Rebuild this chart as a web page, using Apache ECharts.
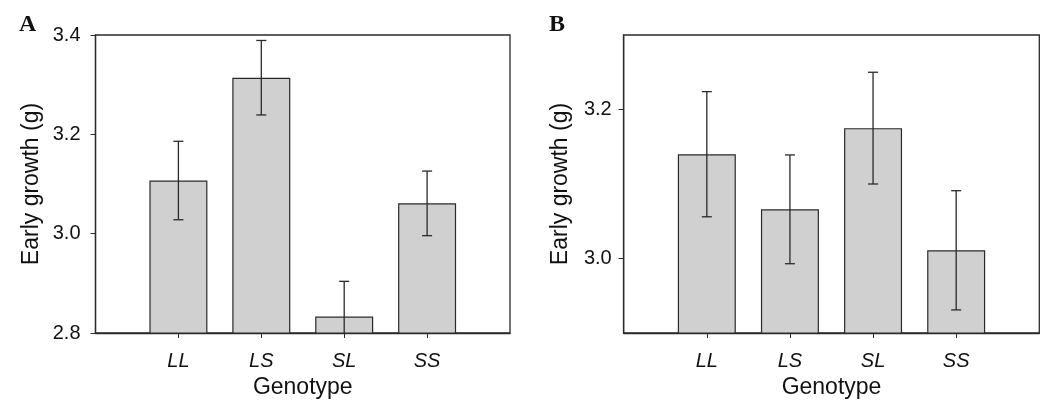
<!DOCTYPE html>
<html>
<head>
<meta charset="utf-8">
<script src="https://cdn.jsdelivr.net/npm/echarts@6/dist/echarts.min.js"></script>
<style>html,body{margin:0;padding:0;background:#fff}#c{width:1050px;height:412px}</style>
</head>
<body>
<div id="c"></div>
<script>
const categories = ['LL', 'LS', 'SL', 'SS'];
const meansA = [3.107, 3.314, 2.833, 3.061];
const errA = [0.079, 0.075, 0.071, 0.065];
const meansB = [3.140, 3.066, 3.175, 3.011];
const errB = [0.084, 0.073, 0.075, 0.080];
const yTicksA = [2.8, 3.0, 3.2, 3.4];
const yTicksB = [3.0, 3.2];
const catPos = [1, 2, 3, 4];

const FONT = '"Liberation Sans", Arial, Helvetica, sans-serif';
const INK = '#2a2a2a';

function barData(m) { return m.map((v, i) => [catPos[i], v]); }
function errData(m, e) { return m.map((v, i) => [catPos[i], v - e[i], v + e[i]]); }

function renderErr(params, api) {
  const x = api.value(0);
  const lo = api.coord([x, api.value(1)]);
  const hi = api.coord([x, api.value(2)]);
  const hw = 5;
  const style = { stroke: INK, lineWidth: 1.3 };
  return {
    type: 'group',
    children: [
      { type: 'line', shape: { x1: lo[0], y1: lo[1], x2: hi[0], y2: hi[1] }, style },
      { type: 'line', shape: { x1: hi[0] - hw, y1: hi[1], x2: hi[0] + hw, y2: hi[1] }, style },
      { type: 'line', shape: { x1: lo[0] - hw, y1: lo[1], x2: lo[0] + hw, y2: lo[1] }, style }
    ]
  };
}

function xAxis(gi) {
  return {
    type: 'value', gridIndex: gi, min: 0, max: 5,
    name: 'Genotype', nameLocation: 'middle', nameGap: 34,
    nameTextStyle: { fontFamily: FONT, fontSize: 23, color: '#111' },
    axisLine: { show: true, lineStyle: { color: INK, width: 1.3 } },
    axisTick: { show: true, customValues: catPos, length: 5, lineStyle: { color: INK } },
    axisLabel: { customValues: catPos, formatter: v => categories[Math.round(v) - 1] || '',
      fontFamily: FONT, fontSize: 20, fontStyle: 'italic', color: '#111', margin: 18 },
    splitLine: { show: false }
  };
}
function yAxis(gi, min, max, ticks, margin) {
  return {
    type: 'value', gridIndex: gi, min: min, max: max,
    name: 'Early growth (g)', nameLocation: 'middle', nameGap: 52,
    nameTextStyle: { fontFamily: FONT, fontSize: 23, color: '#111' },
    axisLine: { show: true, lineStyle: { color: INK, width: 1.3 } },
    axisTick: { show: true, customValues: ticks, length: 5, lineStyle: { color: INK } },
    axisLabel: { customValues: ticks, formatter: v => v.toFixed(1),
      fontFamily: FONT, fontSize: 20, color: '#111', margin: margin },
    splitLine: { show: false }
  };
}

const chart = echarts.init(document.getElementById('c'), null, { renderer: 'canvas' });
chart.setOption({
  animation: false,
  backgroundColor: '#fff',
  grid: [
    { left: 95.5, top: 35, width: 414.5, height: 298, show: true, borderColor: INK, borderWidth: 1.3, backgroundColor: 'transparent' },
    { left: 623.7, top: 35, width: 415.6, height: 298, show: true, borderColor: INK, borderWidth: 1.3, backgroundColor: 'transparent' }
  ],
  xAxis: [xAxis(0), xAxis(1)],
  yAxis: [yAxis(0, 2.8, 3.4, yTicksA, 15), yAxis(1, 2.9, 3.3, yTicksB, 12)],
  graphic: [
    { type: 'text', left: 19, top: 13, style: { text: 'A', font: 'bold 24px "Liberation Serif", "Times New Roman", serif', fill: '#111' } },
    { type: 'text', left: 549, top: 13, style: { text: 'B', font: 'bold 24px "Liberation Serif", "Times New Roman", serif', fill: '#111' } }
  ],
  series: [
    { type: 'bar', xAxisIndex: 0, yAxisIndex: 0, data: barData(meansA), barWidth: 58,
      itemStyle: { color: '#d0d0d0', borderColor: INK, borderWidth: 1.2 } },
    { type: 'custom', xAxisIndex: 0, yAxisIndex: 0, data: errData(meansA, errA), renderItem: renderErr, clip: true, z: 5 },
    { type: 'bar', xAxisIndex: 1, yAxisIndex: 1, data: barData(meansB), barWidth: 58,
      itemStyle: { color: '#d0d0d0', borderColor: INK, borderWidth: 1.2 } },
    { type: 'custom', xAxisIndex: 1, yAxisIndex: 1, data: errData(meansB, errB), renderItem: renderErr, clip: true, z: 5 }
  ]
});
</script>
</body>
</html>
